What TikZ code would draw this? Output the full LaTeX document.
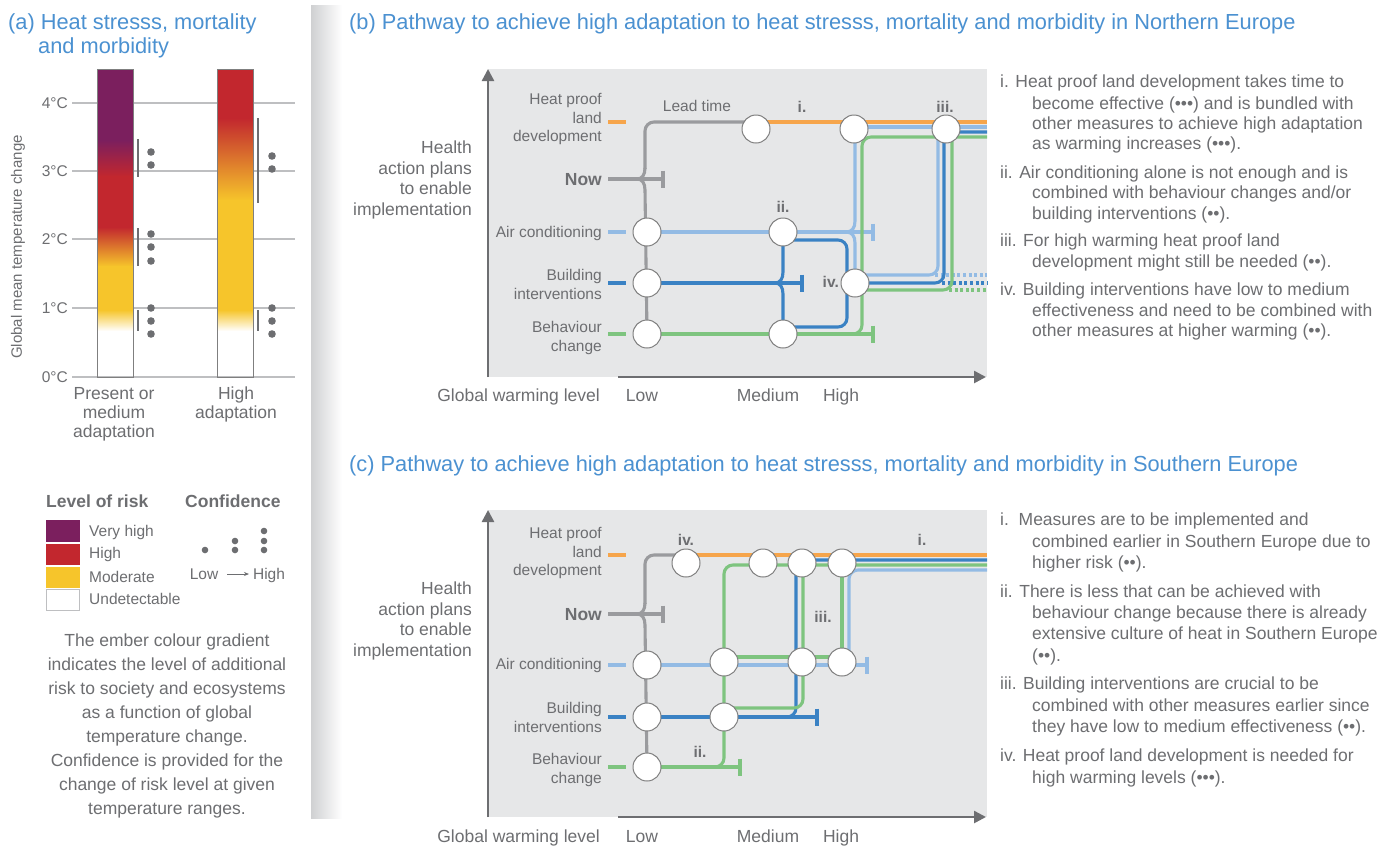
\documentclass[tikz,border=0pt]{standalone}
\usepackage{fontspec}
\setmainfont{Liberation Sans}
\usetikzlibrary{arrows.meta,calc}
\pgfdeclarelayer{bgl}
\pgfdeclarelayer{ln}
\pgfsetlayers{bgl,ln,main}
\definecolor{txt}{HTML}{6D6E71}
\definecolor{ttl}{HTML}{4B91D1}
\definecolor{bgp}{HTML}{E6E7E8}
\definecolor{axc}{HTML}{6D6E71}
\definecolor{cor}{HTML}{F6A54B}
\definecolor{clb}{HTML}{93BBE4}
\definecolor{cdb}{HTML}{3A82C4}
\definecolor{cgn}{HTML}{7EC47F}
\definecolor{cgy}{HTML}{9A9B9E}
\definecolor{rpur}{HTML}{7B1F5E}
\definecolor{rred}{HTML}{C2272E}
\definecolor{ryel}{HTML}{F6C52B}
\definecolor{gridc}{HTML}{BEBFC1}
\definecolor{circbd}{HTML}{7F7F7F}
\definecolor{stripc}{HTML}{CFD0D2}
\begin{document}
\begin{tikzpicture}[x=1pt,y=-1pt,
  lbl/.style={text=txt,inner sep=0pt,font=\fontsize{15.5}{18}\selectfont},
  txtb/.style={text=txt,inner sep=0pt,font=\fontsize{17.5}{21}\selectfont},
  rn/.style={text=txt,inner sep=0pt,font=\fontsize{15.5}{18}\selectfont\bfseries},
  ttlst/.style={text=ttl,inner sep=0pt,font=\fontsize{21.8}{26}\selectfont,anchor=base west},
  circ/.style={circle,draw=circbd,fill=white,minimum size=28pt,inner sep=0pt,line width=1pt},
  pl/.style={line width=3.1pt},
  gyl/.style={pl,draw=cgy},
  orl/.style={pl,draw=cor},
  lbl2/.style={pl,draw=clb},
  dbl/.style={pl,draw=cdb},
  gnl/.style={pl,draw=cgn},
  dotted3/.style={dash pattern=on 3pt off 2.6pt},
  axarrow/.style={draw=axc,line width=2.5pt,-{Triangle[length=12pt,width=12pt]}},
  conf/.style={draw=axc,line width=2pt},
]
\useasboundingbox (0,0) rectangle (1391,847);
\begin{pgfonlayer}{bgl}
\fill[white] (0,0) rectangle (1391,847);
\end{pgfonlayer}

% ================= panel (a) =================
\node[ttlst] (ta1) at (8,29) {(a) Heat stresss, mortality};
\node[ttlst] (ta2) at (38,53) {and morbidity};
\foreach \yy in {103,171,239,308,377} \draw[gridc,line width=1.5pt] (72,\yy) -- (295,\yy);
% bar 1
\fill[rpur] (97,69) rectangle (133,140.5);
\shade[top color=rpur,bottom color=rred] (97,140) rectangle (133,176.5);
\fill[rred] (97,176) rectangle (133,227.5);
\shade[top color=rred,bottom color=ryel] (97,227) rectangle (133,266.5);
\fill[ryel] (97,266) rectangle (133,310.5);
\shade[top color=ryel,bottom color=white] (97,310) rectangle (133,331);
\draw[circbd,line width=1pt] (97,69) rectangle (133,377);
% bar 2
\fill[rred] (217,69) rectangle (253,118.5);
\shade[top color=rred,bottom color=ryel] (217,118) rectangle (253,200.5);
\fill[ryel] (217,200) rectangle (253,310.5);
\shade[top color=ryel,bottom color=white] (217,310) rectangle (253,331);
\draw[circbd,line width=1pt] (217,69) rectangle (253,377);
% confidence marks
\draw[conf] (138,139) -- (138,177);
\draw[conf] (138,228) -- (138,266);
\draw[conf] (138,310) -- (138,331);
\draw[conf] (258,118) -- (258,203);
\draw[conf] (258,310) -- (258,331);
\foreach \px/\py in {151/152,151/165,151/234,151/247,151/261,151/308,151/321,151/334,272/156,272/169,272/308,272/321,272/334}
  \fill[axc] (\px,\py) circle[radius=3.8];
% tick labels
\node[lbl,anchor=base east] (t4) at (68,108.5) {4°C};
\node[lbl,anchor=base east] (t3) at (68,176.5) {3°C};
\node[lbl,anchor=base east] (t2) at (68,244.5) {2°C};
\node[lbl,anchor=base east] (t1) at (68,313.5) {1°C};
\node[lbl,anchor=base east] (t0) at (68,382.5) {0°C};
\node[lbl,font=\fontsize{15}{18}\selectfont,rotate=90] (yl) at (18,247) {Global mean temperature change};
\node[txtb,anchor=base] (bl1) at (114,399) {Present or};
\node[txtb,anchor=base] (bl2) at (114,418) {medium};
\node[txtb,anchor=base] (bl3) at (114,437) {adaptation};
\node[txtb,anchor=base] (bh1) at (236,399) {High};
\node[txtb,anchor=base] (bh2) at (236,418) {adaptation};
% legend
\node[txtb,font=\fontsize{17.5}{21}\selectfont\bfseries,anchor=base west] (lr) at (46,507) {Level of risk};
\node[txtb,font=\fontsize{17.5}{21}\selectfont\bfseries,anchor=base west] (lc) at (185,507) {Confidence};
\fill[rpur] (46,520) rectangle (80,542);
\fill[rred] (46,543.5) rectangle (80,565);
\fill[ryel] (46,567) rectangle (80,587.5);
\draw[gridc,fill=white,line width=1pt] (46.5,589.5) rectangle (79.5,610);
\node[lbl,anchor=base west] (lv1) at (89,536.5) {Very high};
\node[lbl,anchor=base west] (lv2) at (89,558.5) {High};
\node[lbl,anchor=base west] (lv3) at (89,582) {Moderate};
\node[lbl,anchor=base west] (lv4) at (89,604.5) {Undetectable};
\foreach \px/\py in {205/550,235/541,235/550,264/531,264/541,264/550}
  \fill[axc] (\px,\py) circle[radius=3.3];
\node[lbl,anchor=base] (clow) at (204,579.5) {Low};
\node[lbl,anchor=base] (chigh) at (269,579.5) {High};
\coordinate (carA) at (227,574);
\coordinate (carB) at (249,574);
\draw[axc,line width=0.9pt,-{Stealth[length=5pt,width=4pt]}] (carA) -- (carB);
\node[txtb,anchor=base] (p1) at (167,646) {The ember colour gradient};
\node[txtb,anchor=base] (p2) at (167,670) {indicates the level of additional};
\node[txtb,anchor=base] (p3) at (167,694) {risk to society and ecosystems};
\node[txtb,anchor=base] (p4) at (167,718) {as a function of global};
\node[txtb,anchor=base] (p5) at (167,742) {temperature change.};
\node[txtb,anchor=base] (p6) at (167,766) {Confidence is provided for the};
\node[txtb,anchor=base] (p7) at (167,790) {change of risk level at given};
\node[txtb,anchor=base] (p8) at (167,814) {temperature ranges.};

% separator strip
\shade[left color=stripc,right color=white] (311,5) rectangle (342,818);

% ================= panel (b) =================
\node[ttlst] (tb) at (349,29) {(b) Pathway to achieve high adaptation to heat stresss, mortality and morbidity in Northern Europe};
\begin{pgfonlayer}{bgl}
\fill[bgp] (488,69) rectangle (987,377);
\draw[axarrow] (488,377) -- (488,69);
\draw[axarrow] (618,377) -- (986,377);
\end{pgfonlayer}
\node[txtb,anchor=base east] (bhe1) at (472,153) {Health};
\node[txtb,anchor=base east] (bhe2) at (472,174) {action plans};
\node[txtb,anchor=base east] (bhe3) at (472,194.5) {to enable};
\node[txtb,anchor=base east] (bhe4) at (472,215) {implementation};
\node[lbl,anchor=base east] (bhp1) at (602,104.5) {Heat proof};
\node[lbl,anchor=base east] (bhp2) at (602,123) {land};
\node[lbl,anchor=base east] (bhp3) at (602,141.5) {development};
\node[txtb,font=\fontsize{17.5}{21}\selectfont\bfseries,anchor=base east] (bnow) at (602,185.3) {Now};
\node[lbl,anchor=base east] (bac) at (602,237.5) {Air conditioning};
\node[lbl,anchor=base east] (bbi1) at (602,280.5) {Building};
\node[lbl,anchor=base east] (bbi2) at (602,299) {interventions};
\node[lbl,anchor=base east] (bbc1) at (602,332.5) {Behaviour};
\node[lbl,anchor=base east] (bbc2) at (602,351) {change};
\node[txtb,anchor=base east] (bgw) at (600,401) {Global warming level};
\node[txtb,anchor=base] (blo) at (642,401) {Low};
\node[txtb,anchor=base] (bme) at (768,401) {Medium};
\node[txtb,anchor=base] (bhi) at (841,401) {High};
\node[lbl,anchor=base] (blt) at (697,111.5) {Lead time};
\node[rn,anchor=base] (bri) at (802,112.5) {i.};
\node[rn,anchor=base] (briii) at (945,112.5) {iii.};
\node[rn,anchor=base] (brii) at (783,212.5) {ii.};
\node[rn,anchor=base east] (briv) at (839,287.5) {iv.};
% nodes
\node[circ] (b_lead) at (756,129) {};
\node[circ] (b_high) at (854,129) {};
\node[circ] (b_iii) at (946,129) {};
\node[circ] (b_ac0) at (647,232) {};
\node[circ] (b_ii) at (783,232) {};
\node[circ] (b_bi0) at (647,283) {};
\node[circ] (b_iv) at (855,283) {};
\node[circ] (b_bc0) at (647,334) {};
\node[circ] (b_bcm) at (783,334) {};
\coordinate (b_nowL) at (608,179);
\coordinate (b_nowT) at (663,179);
\coordinate (b_acT) at (873,232);
\coordinate (b_biT) at (802,283);
\coordinate (b_bcT) at (873,334);
\coordinate (bRo) at (987,122);
\coordinate (bRlb) at (987,127);
\coordinate (bRdb) at (987,132);
\coordinate (bRgn) at (987,137);
\coordinate (bRl2) at (987,275);
\coordinate (bRd2) at (987,283);
\coordinate (bRg2) at (987,290);
\begin{pgfonlayer}{ln}
% row markers
\draw[orl] (608,122) -- (626,122);
\draw[lbl2] (608,232) -- (626,232);
\draw[dbl] (608,283) -- (626,283);
\draw[gnl] (608,334) -- (626,334);
% gray
\draw[gyl] (b_nowL) -- (b_nowT);
\draw[gyl] ($(b_nowT)+(0,-8.5)$) -- ($(b_nowT)+(0,8.5)$);
\draw[gyl,rounded corners=9] ($(b_lead.center)+(0,-7)$) -| (645,169);
\draw[gyl] (645,168) .. controls (645,175) and (642,179) .. (637,179);
\draw[gyl] (637,179) .. controls (642,179) and (645,183) .. (645,190) -- (b_bc0.center);
% orange
\draw[orl] ($(b_lead.center)+(0,-7)$) -- (bRo);
% light blue
\draw[lbl2] (b_ac0.center) -- (b_acT);
\draw[lbl2] ($(b_acT)+(0,-8.5)$) -- ($(b_acT)+(0,8.5)$);
\draw[lbl2] ($(b_high.center)+(1,-2)$) -- (bRlb);
\draw[lbl2] ($(b_high.center)+(1,0)$) -- (855,221) .. controls (855,228) and (852,232) .. (846,232);
\draw[lbl2] (846,232) .. controls (852,232) and (855,236) .. (855,243) -- (b_iv.center);
\draw[lbl2,rounded corners=9] ($(b_iv.center)+(0,-8)$) -| ($(b_iii.center)+(-8,0)$);
\draw[lbl2,dotted3] (935,275) -- (bRl2);
% dark blue
\draw[dbl] (b_bi0.center) -- (b_biT);
\draw[dbl] ($(b_biT)+(0,-8.5)$) -- ($(b_biT)+(0,8.5)$);
\draw[dbl] (b_ii.center) -- (783,272) .. controls (783,279) and (780,283) .. (775,283);
\draw[dbl] (775,283) .. controls (780,283) and (783,287) .. (783,294) -- (b_bcm.center);
\draw[dbl,rounded corners=9] ($(b_ii.center)+(0,8)$) -| (847,327) -- ($(b_bcm.center)+(0,-7)$);
\draw[dbl,rounded corners=9] (b_iv.center) -| (944,132) -- (bRdb);
\draw[dbl,dotted3] (942,283) -- (bRd2);
% green
\draw[gnl] (b_bc0.center) -- (b_bcT);
\draw[gnl] ($(b_bcT)+(0,-8.5)$) -- ($(b_bcT)+(0,8.5)$);
\draw[gnl,rounded corners=9] (b_bcm.center) -| (862,137) -- (bRgn);
\draw[gnl,rounded corners=9] ($(b_iv.center)+(0,7)$) -| (952,137);
\draw[gnl,dotted3] (949,290) -- (bRg2);
\end{pgfonlayer}
% right text (b)
\node[txtb,anchor=base west] (nb1a) at (1000,87) {i. Heat proof land development takes time to};
\node[txtb,anchor=base west] (nb1b) at (1032,109) {become effective (•••) and is bundled with};
\node[txtb,anchor=base west] (nb1c) at (1032,129.5) {other measures to achieve high adaptation};
\node[txtb,anchor=base west] (nb1d) at (1032,149.5) {as warming increases (•••).};
\node[txtb,anchor=base west] (nb2a) at (1000,178) {ii. Air conditioning alone is not enough and is};
\node[txtb,anchor=base west] (nb2b) at (1032,198) {combined with behaviour changes and/or};
\node[txtb,anchor=base west] (nb2c) at (1032,219.5) {building interventions (••).};
\node[txtb,anchor=base west] (nb3a) at (1000,246) {iii. For high warming heat proof land};
\node[txtb,anchor=base west] (nb3b) at (1032,267) {development might still be needed (••).};
\node[txtb,anchor=base west] (nb4a) at (1000,295.5) {iv. Building interventions have low to medium};
\node[txtb,anchor=base west] (nb4b) at (1032,316) {effectiveness and need to be combined with};
\node[txtb,anchor=base west] (nb4c) at (1032,336.5) {other measures at higher warming (••).};

% ================= panel (c) =================
\node[ttlst] (tc) at (349,471) {(c) Pathway to achieve high adaptation to heat stresss, mortality and morbidity in Southern Europe};
\begin{pgfonlayer}{bgl}
\fill[bgp] (488,510) rectangle (987,817);
\draw[axarrow] (488,817) -- (488,510);
\draw[axarrow] (618,817) -- (986,817);
\end{pgfonlayer}
\node[txtb,anchor=base east] (che1) at (472,594.3) {Health};
\node[txtb,anchor=base east] (che2) at (472,615) {action plans};
\node[txtb,anchor=base east] (che3) at (472,635.5) {to enable};
\node[txtb,anchor=base east] (che4) at (472,656) {implementation};
\node[lbl,anchor=base east] (chp1) at (602,538.5) {Heat proof};
\node[lbl,anchor=base east] (chp2) at (602,557) {land};
\node[lbl,anchor=base east] (chp3) at (602,575.5) {development};
\node[txtb,font=\fontsize{17.5}{21}\selectfont\bfseries,anchor=base east] (cnow) at (602,620.3) {Now};
\node[lbl,anchor=base east] (cac) at (602,669.5) {Air conditioning};
\node[lbl,anchor=base east] (cbi1) at (602,713.5) {Building};
\node[lbl,anchor=base east] (cbi2) at (602,732) {interventions};
\node[lbl,anchor=base east] (cbc1) at (602,764.5) {Behaviour};
\node[lbl,anchor=base east] (cbc2) at (602,783) {change};
\node[txtb,anchor=base east] (cgw) at (600,842) {Global warming level};
\node[txtb,anchor=base] (clo) at (642,842) {Low};
\node[txtb,anchor=base] (cme) at (768,842) {Medium};
\node[txtb,anchor=base] (chi) at (841,842) {High};
\node[rn,anchor=base] (criv) at (686,545.5) {iv.};
\node[rn,anchor=base] (cri) at (922,545.5) {i.};
\node[rn,anchor=base] (crii) at (700,757.5) {ii.};
\node[rn,anchor=base] (criii) at (823,622.5) {iii.};
% nodes
\node[circ] (c_iv) at (686,563) {};
\node[circ] (c_t1) at (763,563) {};
\node[circ] (c_t2) at (802,563) {};
\node[circ] (c_t3) at (842,563) {};
\node[circ] (c_ac0) at (647,665) {};
\node[circ] (c_ac1) at (724,662) {};
\node[circ] (c_ac2) at (802,662) {};
\node[circ] (c_ac3) at (842,662) {};
\node[circ] (c_bi0) at (647,717) {};
\node[circ] (c_bi1) at (724,717) {};
\node[circ] (c_bc0) at (647,767) {};
\coordinate (c_nowL) at (608,614);
\coordinate (c_nowT) at (663,614);
\coordinate (c_acT) at (867,665);
\coordinate (c_biT) at (817,717);
\coordinate (c_bcT) at (740,767);
\coordinate (cRo) at (987,555);
\coordinate (cRdb) at (987,560);
\coordinate (cRgn) at (987,565);
\coordinate (cRlb) at (987,570);
\begin{pgfonlayer}{ln}
\draw[orl] (608,555) -- (626,555);
\draw[lbl2] (608,665) -- (626,665);
\draw[dbl] (608,717) -- (626,717);
\draw[gnl] (608,767) -- (626,767);
% gray
\draw[gyl] (c_nowL) -- (c_nowT);
\draw[gyl] ($(c_nowT)+(0,-8.5)$) -- ($(c_nowT)+(0,8.5)$);
\draw[gyl,rounded corners=9] ($(c_iv.center)+(0,-8)$) -| (645,604);
\draw[gyl] (645,603) .. controls (645,610) and (642,614) .. (637,614);
\draw[gyl] (637,614) .. controls (642,614) and (645,618) .. (645,625) -- (c_bc0.center);
% orange
\draw[orl] ($(c_iv.center)+(0,-8)$) -- (cRo);
% dark blue
\draw[dbl] (c_bi0.center) -- (c_biT);
\draw[dbl] ($(c_biT)+(0,-8.5)$) -- ($(c_biT)+(0,8.5)$);
\draw[dbl,rounded corners=9] (c_bi1.center) -| (796,560) -- (cRdb);
% green
\draw[gnl] (c_bc0.center) -- (c_bcT);
\draw[gnl] ($(c_bcT)+(0,-8.5)$) -- ($(c_bcT)+(0,8.5)$);
\draw[gnl,rounded corners=9] (c_bc0.center) -| (724,565) -- (cRgn);
\draw[gnl] ($(c_ac1.center)+(0,-5)$) -- ($(c_ac3.center)+(0,-5)$);
\draw[gnl,rounded corners=9] ($(c_bi1.center)+(0,-9)$) -| (803,565);
\draw[gnl] (c_t3.center) -- (c_ac3.center);
% light blue
\draw[lbl2] (c_ac0.center) -- (c_acT);
\draw[lbl2] ($(c_acT)+(0,-8.5)$) -- ($(c_acT)+(0,8.5)$);
\draw[lbl2,rounded corners=9] ($(c_ac3.center)+(7,0)$) |- (cRlb);
\end{pgfonlayer}
% right text (c)
\node[txtb,anchor=base west] (nc1a) at (1000,525) {i.\ \ Measures are to be implemented and};
\node[txtb,anchor=base west] (nc1b) at (1032,547) {combined earlier in Southern Europe due to};
\node[txtb,anchor=base west] (nc1c) at (1032,568) {higher risk (••).};
\node[txtb,anchor=base west] (nc2a) at (1000,597) {ii. There is less that can be achieved with};
\node[txtb,anchor=base west] (nc2b) at (1032,618) {behaviour change because there is already};
\node[txtb,anchor=base west] (nc2c) at (1032,639) {extensive culture of heat in Southern Europe};
\node[txtb,anchor=base west] (nc2d) at (1032,661) {(••).};
\node[txtb,anchor=base west] (nc3a) at (1000,689) {iii. Building interventions are crucial to be};
\node[txtb,anchor=base west] (nc3b) at (1032,711) {combined with other measures earlier since};
\node[txtb,anchor=base west] (nc3c) at (1032,732) {they have low to medium effectiveness (••).};
\node[txtb,anchor=base west] (nc4a) at (1000,761) {iv. Heat proof land development is needed for};
\node[txtb,anchor=base west] (nc4b) at (1032,783) {high warming levels (•••).};
\end{tikzpicture}
\end{document}
